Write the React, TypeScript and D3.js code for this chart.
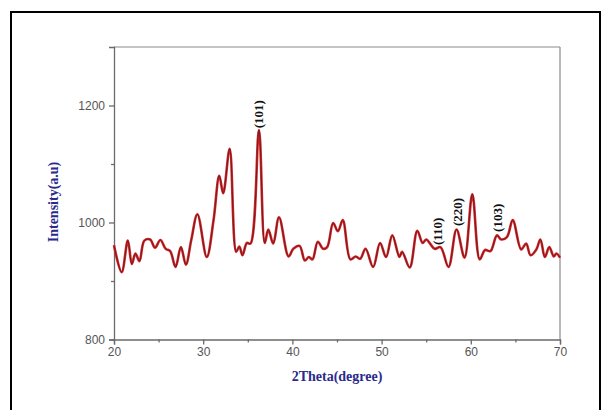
import React, { useEffect, useRef } from "react";
import * as d3 from "d3";

const twoTheta = [
  20.0, 20.86, 21.55, 22.0, 22.4, 22.85, 23.4, 24.05, 24.6, 25.2, 25.8, 26.3, 26.9, 27.5, 28.06, 28.66,
  29.35, 30.4, 31.16, 31.8, 32.24, 32.97, 33.7, 34.05, 34.4, 34.9, 35.3, 36.25, 36.9, 37.3, 37.85, 38.5,
  39.57, 40.1, 40.8, 41.4, 41.85, 42.25, 42.85, 43.45, 43.9, 44.57, 45.1, 45.65, 46.5, 47.1, 47.6, 48.2,
  49.05, 49.83, 50.5, 51.2, 52.0, 52.3, 53.15, 54.0, 54.6, 55.0, 55.95, 56.6, 57.5, 58.4, 59.3, 60.17,
  61.0, 61.6, 62.2, 62.93, 63.4, 64.05, 64.7, 65.65, 66.2, 66.7, 67.35, 67.8, 68.3, 68.8, 69.3, 69.6, 70.0,
];
const intensity = [
  961, 915, 969, 929, 947, 934, 969, 971, 957, 970, 955, 951, 924, 958, 928, 970,
  1014, 941, 1004, 1080, 1050, 1126, 950, 959, 944, 965, 964, 1158, 965, 988, 964, 1009,
  942, 955, 960, 935, 941, 937, 967, 955, 958, 999, 985, 1004, 937, 942, 938, 955,
  924, 965, 941, 978, 941, 950, 923, 986, 965, 971, 955, 958, 924, 988, 940, 1048,
  937, 953, 951, 978, 971, 975, 1004, 954, 964, 944, 954, 971, 941, 958, 942, 947, 940,
];

const xTicks = [20, 30, 40, 50, 60, 70];
const xMinorTicks = [25, 35, 45, 55, 65];
const yTicks = [800, 1000, 1200];
const yMinorTicks = [900, 1100];

const peakLabels = ["(101)", "(110)", "(220)", "(103)"];
const peakX = [36.25, 56.3, 58.55, 62.95];
const peakY = [1185, 985, 1018, 1008];

const xTitle = "2Theta(degree)";
const yTitle = "Intensity(a.u)";

export default function App() {
  const ref = useRef<SVGSVGElement>(null);

  useEffect(() => {
    const svg = d3.select(ref.current);
    svg.selectAll("*").remove();

    const left = 114, right = 560, top = 47, bottom = 339.5;
    const x = d3.scaleLinear().domain([20, 70]).range([left, right]);
    const y = d3.scaleLinear().domain([800, 1300]).range([bottom, top]);

    // outer frame
    svg.append("path")
      .attr("d", `M11,420 L11,12 L600,12 L600,420`)
      .attr("fill", "none").attr("stroke", "#000").attr("stroke-width", 2);

    const axisColor = "#6a6a6a";
    svg.append("line").attr("x1", left).attr("x2", right).attr("y1", top).attr("y2", top)
      .attr("stroke", "#8a8a8a").attr("stroke-width", 1.2);
    svg.append("line").attr("x1", right).attr("x2", right).attr("y1", top).attr("y2", bottom)
      .attr("stroke", "#8a8a8a").attr("stroke-width", 1.2);

    const fmt = (d: d3.NumberValue) => String(d);
    const gx = svg.append("g").attr("transform", `translate(0,${bottom})`)
      .call(d3.axisBottom(x).tickValues(xTicks).tickSize(5).tickPadding(3).tickFormat(fmt));
    svg.append("g").attr("transform", `translate(0,${bottom})`)
      .call(d3.axisBottom(x).tickValues(xMinorTicks).tickSize(3).tickFormat(() => ""))
      .call((g) => g.select(".domain").remove());
    const gy = svg.append("g").attr("transform", `translate(${left},0)`)
      .call(d3.axisLeft(y).tickValues(yTicks).tickSize(5).tickPadding(4).tickFormat(fmt));
    svg.append("g").attr("transform", `translate(${left},0)`)
      .call(d3.axisLeft(y).tickValues(yMinorTicks).tickSize(3).tickFormat(() => ""))
      .call((g) => g.select(".domain").remove());

    svg.selectAll(".domain, .tick line").attr("stroke", axisColor).attr("stroke-width", 1.3);
    [gx, gy].forEach((g) =>
      g.selectAll("text")
        .attr("font-family", "Arial, 'Liberation Sans', sans-serif")
        .attr("font-size", 12)
        .attr("fill", "#555")
    );

    const pts = twoTheta.map((t, i) => [t, intensity[i]] as [number, number]);
    const line = d3.line<[number, number]>()
      .x((d) => x(d[0])).y((d) => y(d[1]))
      .curve(d3.curveCatmullRom.alpha(0.5));
    svg.append("path").attr("d", line(pts)).attr("fill", "none")
      .attr("stroke", "#d8262b").attr("stroke-width", 2.6).attr("stroke-linejoin", "round");
    svg.append("path").attr("d", line(pts)).attr("fill", "none")
      .attr("stroke", "#6e1c1c").attr("stroke-width", 1).attr("stroke-linejoin", "round");

    peakLabels.forEach((lab, i) => {
      svg.append("text")
        .attr("transform", `translate(${x(peakX[i]) + 4.5},${y(peakY[i])}) rotate(-90)`)
        .attr("text-anchor", "middle")
        .attr("font-family", "'Liberation Serif', 'DejaVu Serif', serif")
        .attr("font-weight", "bold")
        .attr("font-size", 13)
        .attr("fill", "#111")
        .text(lab);
    });

    svg.append("text")
      .attr("x", 337).attr("y", 381)
      .attr("text-anchor", "middle")
      .attr("font-family", "'Liberation Serif', serif")
      .attr("font-weight", "bold").attr("font-size", 14)
      .attr("fill", "#2a2a8c")
      .text(xTitle);
    svg.append("text")
      .attr("transform", `translate(58,202) rotate(-90)`)
      .attr("text-anchor", "middle")
      .attr("font-family", "'Liberation Serif', serif")
      .attr("font-weight", "bold").attr("font-size", 14)
      .attr("fill", "#2a2a8c")
      .text(yTitle);
  }, []);

  return (
    <svg ref={ref} width={603} height={410}
      style={{ position: "absolute", left: 0, top: 0, background: "#fff" }} />
  );
}
